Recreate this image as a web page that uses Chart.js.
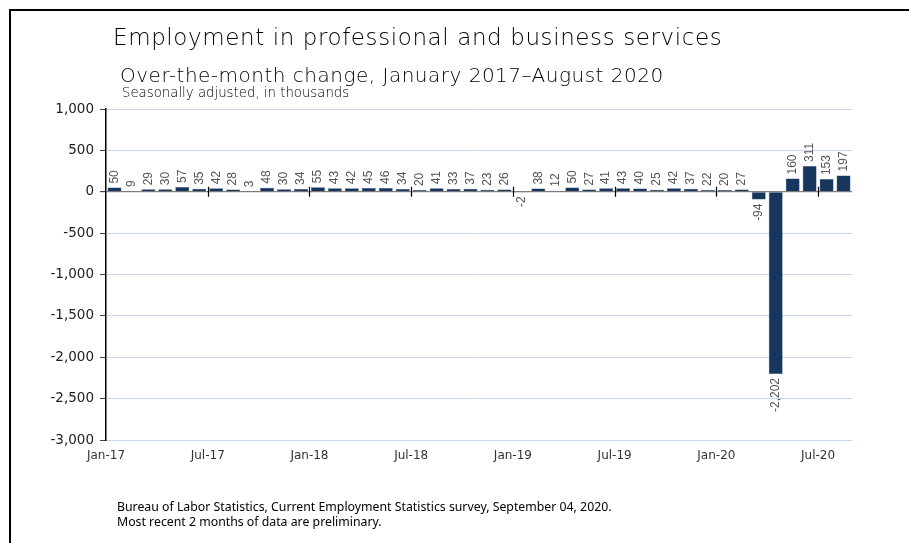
<!DOCTYPE html>
<html>
<head>
<meta charset="utf-8">
<script src="https://cdn.jsdelivr.net/npm/chart.js@4.4.0/dist/chart.umd.min.js"></script>
<style>
  html, body { margin: 0; padding: 0; background: #fff; }
  body { width: 909px; height: 543px; position: relative; overflow: hidden; }
  #frame { position: absolute; left: 9px; top: 9px; width: 910px; height: 540px;
           border-left: 2px solid #000; border-top: 2px solid #000; box-sizing: border-box; }
  #wrap { position: absolute; left: 0; top: 0; width: 909px; height: 543px; }
  .t { position: absolute; white-space: nowrap; color: #000; }
  #title { left: 113px; top: 24px; font: 200 23px "DejaVu Sans", sans-serif; letter-spacing: 0.6px; }
  #sub { left: 120px; top: 63px; font: 200 20px "DejaVu Sans", sans-serif; letter-spacing: 0.5px; }
  #sub2 { left: 122px; top: 85px; font: 200 13.3px "DejaVu Sans", sans-serif; }
  #foot1 { left: 117px; top: 498px; font: 12.3px "Noto Sans", sans-serif; }
  #foot2 { left: 117px; top: 513px; font: 12.3px "Noto Sans", sans-serif; }
</style>
</head>
<body>
<div id="frame"></div>
<div id="wrap"><canvas id="c" width="909" height="543"></canvas></div>
<div class="t" id="title">Employment in professional and business services</div>
<div class="t" id="sub">Over-the-month change, January 2017–August 2020</div>
<div class="t" id="sub2">Seasonally adjusted, in thousands</div>
<div class="t" id="foot1">Bureau of Labor Statistics, Current Employment Statistics survey, September 04, 2020.</div>
<div class="t" id="foot2">Most recent 2 months of data are preliminary.</div>
<script>
// Months Jan 2017 .. Aug 2020
const months = [
  "Jan-17","Feb-17","Mar-17","Apr-17","May-17","Jun-17","Jul-17","Aug-17","Sep-17","Oct-17","Nov-17","Dec-17",
  "Jan-18","Feb-18","Mar-18","Apr-18","May-18","Jun-18","Jul-18","Aug-18","Sep-18","Oct-18","Nov-18","Dec-18",
  "Jan-19","Feb-19","Mar-19","Apr-19","May-19","Jun-19","Jul-19","Aug-19","Sep-19","Oct-19","Nov-19","Dec-19",
  "Jan-20","Feb-20","Mar-20","Apr-20","May-20","Jun-20","Jul-20","Aug-20"
];
const changes = [
  50, 9, 29, 30, 57, 35, 42, 28, 3, 48, 30, 34,
  55, 43, 42, 45, 46, 34, 20, 41, 33, 37, 23, 26,
  -2, 38, 12, 50, 27, 41, 43, 40, 25, 42, 37, 22,
  20, 27, -94, -2202, 160, 311, 153, 197
];
const tickLabels = ["Jan-17","Jul-17","Jan-18","Jul-18","Jan-19","Jul-19","Jan-20","Jul-20"];
const yTicks = [1000, 500, 0, -500, -1000, -1500, -2000, -2500, -3000];

const tickIdx = tickLabels.map(l => months.indexOf(l));

const barLabels = {
  id: 'barLabels',
  afterDatasetsDraw(chart) {
    const ctx = chart.ctx;
    const meta = chart.getDatasetMeta(0);
    ctx.save();
    ctx.font = '12px "Liberation Sans Narrow", "Liberation Sans", sans-serif';
    ctx.fillStyle = '#555';
    ctx.textBaseline = 'middle';
    meta.data.forEach((el, i) => {
      const v = changes[i];
      const txt = v.toLocaleString('en-US');
      ctx.save();
      if (v >= 0) {
        ctx.translate(el.x, Math.min(el.y, el.base) - 4);
        ctx.rotate(-Math.PI / 2);
        ctx.textAlign = 'left';
      } else {
        ctx.translate(el.x, Math.max(el.y, el.base) + 4);
        ctx.rotate(-Math.PI / 2);
        ctx.textAlign = 'right';
      }
      ctx.fillText(txt, 0, 0);
      ctx.restore();
    });
    ctx.restore();
  }
};

const zeroTicks = {
  id: 'zeroTicks',
  afterDatasetsDraw(chart) {
    const ctx = chart.ctx;
    const xs = chart.scales.x, ys = chart.scales.y;
    const y0 = ys.getPixelForValue(0);
    ctx.save();
    ctx.strokeStyle = '#000';
    ctx.lineWidth = 1.2;
    ctx.beginPath();
    tickIdx.forEach((ti, k) => {
      if (k === 0) return;
      const x = Math.round(xs.getPixelForValue(ti - 0.5)) + 0.5;
      ctx.moveTo(x, y0 - 5);
      ctx.lineTo(x, y0 + 5);
    });
    ctx.stroke();
    ctx.restore();
  }
};

new Chart(document.getElementById('c'), {
  type: 'bar',
  data: {
    datasets: [{
      data: changes.map((v, i) => ({ x: i, y: v })),
      backgroundColor: '#17365d',
      borderColor: '#2b4a72',
      borderWidth: 0.5,
      barPercentage: 1.0,
      categoryPercentage: 0.82
    }]
  },
  options: {
    responsive: false,
    animation: false,
    layout: { padding: { left: 0, right: 57, top: 109, bottom: 73 } },
    plugins: { legend: { display: false }, tooltip: { enabled: false }, title: { display: false } },
    scales: {
      x: {
        type: 'linear',
        offset: false,
        min: -0.5,
        max: changes.length - 0.5,
        afterBuildTicks(scale) { scale.ticks = tickIdx.map(i => ({ value: i - 0.5 })); },
        afterFit(scale) { scale.height = 30; },
        ticks: {
          autoSkip: false,
          maxRotation: 0,
          padding: 9,
          color: '#333',
          font: { family: '"DejaVu Sans", sans-serif', size: 12 },
          callback: (v, i) => tickLabels[i]
        },
        grid: { display: false, drawTicks: false, offset: false },
        border: { display: false }
      },
      y: {
        min: -3000,
        max: 1000,
        afterBuildTicks(scale) { scale.ticks = yTicks.map(v => ({ value: v })); },
        afterFit(scale) { scale.width = 106; },
        ticks: {
          padding: 6,
          color: '#222',
          font: { family: '"DejaVu Sans", sans-serif', size: 13.5 },
          callback: v => v.toLocaleString('en-US')
        },
        grid: {
          color: ctx => (ctx.tick && ctx.tick.value === 0) ? '#7f7f7f' : '#c9d5ea',
          lineWidth: ctx => (ctx.tick && ctx.tick.value === 0) ? 1.2 : 1,
          tickColor: '#444',
          tickLength: 6
        },
        border: { display: true, color: '#000', width: 1.5 }
      }
    }
  },
  plugins: [barLabels, zeroTicks]
});
</script>
</body>
</html>
